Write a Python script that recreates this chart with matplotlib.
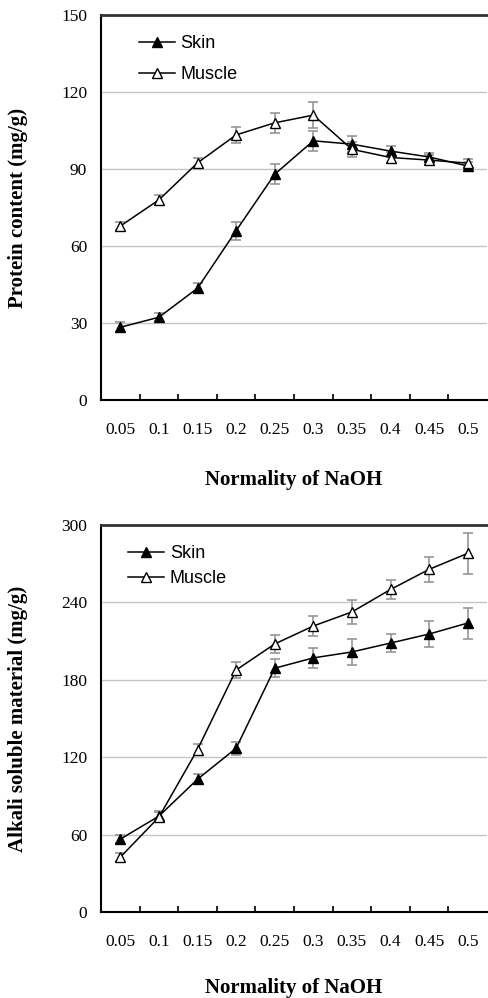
import matplotlib
matplotlib.use("Agg")
import matplotlib.pyplot as plt
import numpy as np

# NaOH normality (categories)
normality = ["0.05", "0.1", "0.15", "0.2", "0.25", "0.3", "0.35", "0.4", "0.45", "0.5"]

# Protein content (mg/g)
protein_skin = [28.4, 32.3, 43.6, 66.0, 88.0, 101.0, 99.7, 97.0, 94.7, 91.2]
protein_skin_err = [2.0, 1.5, 2.0, 3.5, 4.0, 4.0, 3.0, 2.0, 1.5, 1.5]
protein_muscle = [67.8, 78.0, 92.4, 103.3, 108.0, 111.0, 97.7, 94.5, 93.5, 92.3]
protein_muscle_err = [1.5, 2.0, 2.0, 3.0, 4.0, 5.0, 3.0, 2.0, 2.0, 1.5]

# Alkali soluble material (mg/g)
alkali_skin = [56.6, 74.4, 103.0, 127.0, 189.0, 197.0, 201.6, 208.5, 215.5, 224.0]
alkali_skin_err = [3.0, 4.0, 4.0, 5.0, 7.0, 8.0, 10.0, 7.0, 10.0, 12.0]
alkali_muscle = [42.6, 73.6, 126.0, 187.6, 207.8, 221.7, 232.6, 250.0, 265.6, 278.0]
alkali_muscle_err = [3.0, 4.0, 4.0, 6.0, 7.0, 8.0, 9.5, 7.0, 9.5, 16.0]

SERIF = "Liberation Serif"
SANS = "Liberation Sans"


def draw_panel(ax, skin, skin_err, muscle, muscle_err, ymax, ystep, ylabel,
               leg_x, leg_spacing):
    x = np.arange(len(normality))
    for y, err, face, label in [
        (skin, skin_err, "black", "Skin"),
        (muscle, muscle_err, "white", "Muscle"),
    ]:
        ax.errorbar(x, y, yerr=err, fmt="none", ecolor="#969696",
                    elinewidth=1.2, capsize=3.5, capthick=1.2, zorder=2)
        ax.plot(x, y, color="black", lw=1.1, marker="^", ms=7.5,
                mfc=face, mec="black", mew=1.0, label=label, zorder=3)

    ax.set_xlim(-0.5, len(normality) - 0.5)
    ax.set_ylim(0, ymax)
    yt = np.arange(0, ymax + 1, ystep)
    ax.set_yticks(yt)
    ax.set_yticklabels([str(int(v)) for v in yt], fontfamily=SERIF, fontsize=12.5)
    ax.tick_params(axis="y", length=0, pad=10)

    # ticks at category boundaries, labels at centres
    ax.set_xticks(np.arange(0.5, len(normality) - 0.5, 1.0))
    ax.set_xticklabels([])
    ax.tick_params(axis="x", which="major", direction="in", length=4,
                   width=1.2, color="black")
    ax.set_xticks(x, minor=True)
    ax.set_xticklabels(normality, minor=True, fontfamily=SERIF, fontsize=12.5)
    ax.tick_params(axis="x", which="minor", length=0, pad=16)

    for v in yt[1:-1]:
        ax.axhline(v, color="#c4c4c4", lw=1.0, zorder=1)

    ax.spines["right"].set_visible(False)
    ax.spines["top"].set_color("#333333")
    ax.spines["top"].set_linewidth(2.0)
    ax.spines["left"].set_linewidth(1.5)
    ax.spines["bottom"].set_linewidth(1.5)

    ax.set_xlabel("Normality of NaOH", fontfamily=SERIF, fontsize=15,
                  fontweight="bold")
    ax.set_ylabel(ylabel, fontfamily=SERIF, fontsize=15, fontweight="bold")
    ax.yaxis.set_label_coords(-0.19, 0.5)

    ax.legend(loc="upper left", frameon=False, prop={"family": SANS, "size": 13},
              handlelength=2.0, handletextpad=0.3, labelspacing=leg_spacing,
              borderaxespad=0.3, bbox_to_anchor=(leg_x, 0.98))


fig = plt.figure(figsize=(4.88, 9.98), dpi=100)
ax1 = fig.add_axes([0.207, 0.599, 0.791, 0.386])
ax2 = fig.add_axes([0.207, 0.086, 0.791, 0.388])

draw_panel(ax1, protein_skin, protein_skin_err, protein_muscle, protein_muscle_err,
           150, 30, "Protein content (mg/g)", 0.065, 0.75)
draw_panel(ax2, alkali_skin, alkali_skin_err, alkali_muscle, alkali_muscle_err,
           300, 60, "Alkali soluble material (mg/g)", 0.038, 0.45)
ax1.xaxis.set_label_coords(0.5, -0.18)
ax2.xaxis.set_label_coords(0.5, -0.17)

fig.savefig("out.png", dpi=100)
